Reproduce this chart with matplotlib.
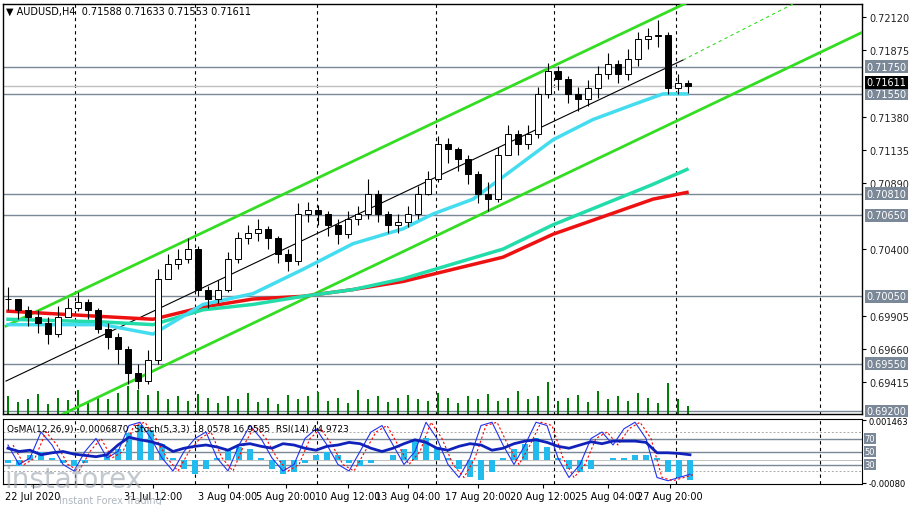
import matplotlib
matplotlib.use("Agg")
import matplotlib.pyplot as plt
import numpy as np
from matplotlib.patches import Rectangle

W, H = 911, 506
fig = plt.figure(figsize=(W/100, H/100), dpi=100)
fig.patch.set_facecolor("white")

# ---- data (close per 8h bar) ----
closes = [0.7003, 0.6995, 0.6990, 0.6985, 0.6977, 0.6990, 0.6996, 0.7001, 0.6995, 0.6981,
          0.6975, 0.6966, 0.6948, 0.6942, 0.6958, 0.7018, 0.7029, 0.7033, 0.7040, 0.7010,
          0.7003, 0.7010, 0.7033, 0.7048, 0.7052, 0.7055, 0.7048, 0.7036, 0.7031, 0.7066,
          0.7069, 0.7066, 0.7058, 0.7051, 0.7062, 0.7066, 0.7081, 0.7066, 0.7058, 0.7060,
          0.7066, 0.7081, 0.7092, 0.7118, 0.7114, 0.7107, 0.7096, 0.7081, 0.7077, 0.7110,
          0.7125, 0.7118, 0.7125, 0.7155, 0.7172, 0.7166, 0.7155, 0.7151, 0.7159, 0.7170,
          0.7177, 0.7170, 0.7181, 0.7196, 0.7198, 0.7199, 0.7159, 0.7163, 0.7161]
highs = [0.7012, 0.7003, 0.6998, 0.6995, 0.6990, 0.6998, 0.7004, 0.7008, 0.7003, 0.6996,
         0.6985, 0.6978, 0.6968, 0.6955, 0.6965, 0.7025, 0.7036, 0.7040, 0.7048, 0.7042,
         0.7013, 0.7017, 0.7038, 0.7053, 0.7058, 0.7062, 0.7057, 0.7050, 0.7040, 0.7074,
         0.7075, 0.7073, 0.7068, 0.7062, 0.7068, 0.7072, 0.7092, 0.7084, 0.7068, 0.7066,
         0.7072, 0.7087, 0.7098, 0.7124, 0.7122, 0.7116, 0.7110, 0.7098, 0.7090, 0.7116,
         0.7132, 0.7128, 0.7132, 0.7160, 0.7178, 0.7176, 0.7168, 0.7160, 0.7165, 0.7176,
         0.7185, 0.7180, 0.7188, 0.7201, 0.7204, 0.7210, 0.7201, 0.7170, 0.7165]
lows = [0.6995, 0.6988, 0.6983, 0.6978, 0.6970, 0.6975, 0.6990, 0.6994, 0.6988, 0.6978,
        0.6966, 0.6955, 0.6940, 0.6936, 0.6940, 0.6955, 0.7020, 0.7025, 0.7030, 0.7005,
        0.6996, 0.7000, 0.7008, 0.7030, 0.7044, 0.7046, 0.7040, 0.7030, 0.7024, 0.7028,
        0.7060, 0.7058, 0.7050, 0.7044, 0.7048, 0.7058, 0.7062, 0.7060, 0.7052, 0.7052,
        0.7056, 0.7062, 0.7080, 0.7090, 0.7104, 0.7098, 0.7088, 0.7074, 0.7068, 0.7075,
        0.7110, 0.7110, 0.7114, 0.7122, 0.7152, 0.7158, 0.7148, 0.7142, 0.7146, 0.7152,
        0.7166, 0.7163, 0.7165, 0.7176, 0.7188, 0.7190, 0.7155, 0.7155, 0.7156]
volumes = [22, 15, 18, 25, 12, 20, 17, 30, 14, 22, 18, 26, 35, 30, 24, 28, 19, 22, 16, 25,
           20, 14, 22, 18, 26, 15, 20, 12, 24, 18, 22, 27, 16, 20, 14, 30, 18, 22, 15, 20,
           24, 18, 16, 26, 20, 14, 22, 18, 25, 16, 20, 28, 18, 22, 40, 16, 20, 24, 15, 28,
           18, 22, 16, 26, 20, 14, 38, 18, 10]

ma_x = [5, 100, 150, 200, 250, 300, 350, 400, 430, 470, 510, 550, 590, 630, 660, 684]
ma_fast = [0.6984, 0.6984, 0.6977, 0.6999, 0.7007, 0.7025, 0.7044, 0.7055, 0.7066, 0.7077,
           0.7099, 0.7121, 0.7136, 0.7147, 0.7155, 0.7155]
ma2_x = [5, 100, 150, 200, 250, 300, 350, 400, 450, 500, 550, 600, 650, 684]
ma_mid = [0.6988, 0.6986, 0.6984, 0.6995, 0.6999, 0.7005, 0.7010, 0.7018, 0.7029, 0.7040,
          0.7058, 0.7073, 0.7088, 0.7099]
ma_slow = [0.6994, 0.6990, 0.6988, 0.6997, 0.7003, 0.7005, 0.7010, 0.7016, 0.7025, 0.7034,
           0.7051, 0.7064, 0.7077, 0.7082]

levels = [0.71750, 0.71550, 0.70810, 0.70650, 0.70050, 0.69550, 0.69200]
ticks = [0.72120, 0.71875, 0.71380, 0.71135, 0.70890, 0.70400, 0.69905, 0.69660, 0.69415]
last_price = 0.71611
vlines_x = [72, 192, 314, 433, 551, 673, 817]
date_x = [30, 150, 225, 283, 345, 405, 475, 540, 605, 667]
date_lbl = ["22 Jul 2020", "31 Jul 12:00", "3 Aug 04:00", "5 Aug 20:00", "10 Aug 12:00",
            "13 Aug 04:00", "17 Aug 20:00", "20 Aug 12:00", "25 Aug 04:00", "27 Aug 20:00"]

osma = [-0.0001, -0.0002, 0.0002, 0.0003, 0.0001, -0.0001, -0.0002, -0.0001, 0.0000, 0.0002,
        0.0004, 0.0010, 0.0013, 0.0011, 0.0006, 0.0001, -0.0003, -0.0005, -0.0003, 0.0001,
        0.0004, 0.0005, 0.0004, 0.0001, -0.0003, -0.0005, -0.0004, -0.0001, 0.0002, 0.0003,
        0.0002, -0.0001, -0.0002, -0.0001, 0.0000, 0.0002, 0.0004, 0.0007, 0.0008, 0.0005,
        0.0001, -0.0003, -0.0006, -0.0007, -0.0004, 0.0001, 0.0004, 0.0006, 0.0008, 0.0005,
        0.0001, -0.0003, -0.0004, -0.0003, 0.0000, 0.0001, 0.0001, 0.0002, 0.0002, 0.0001,
        -0.0004, -0.0006, -0.0007]
rsi = [55, 50, 52, 45, 48, 50, 46, 44, 42, 45, 60, 72, 68, 65, 60, 50, 55, 58, 60, 57,
       52, 60, 62, 58, 55, 62, 60, 55, 52, 58, 60, 64, 62, 55, 50, 55, 62, 68, 64, 55,
       52, 58, 62, 60, 52, 55, 62, 66, 68, 64, 58, 55, 60, 65, 62, 66, 66, 66, 64, 48,
       48, 47, 45]
stoch = [60, 30, 40, 80, 60, 30, 20, 50, 70, 40, 50, 90, 95, 70, 40, 20, 50, 70, 80, 40,
         20, 60, 90, 70, 40, 20, 30, 70, 85, 60, 30, 20, 50, 80, 90, 60, 30, 50, 95, 70,
         30, 10, 40, 90, 95, 60, 30, 60, 95, 90, 40, 10, 30, 70, 80, 60, 85, 95, 70, 10,
         5, 10, 15]

def y2f(y):
    return 1 - y / H

# ---- main panel ----
ax = fig.add_axes([3/W, y2f(415), 859/W, (415-5)/H])
ymin, ymax = 0.69178, 0.72216
ax.set_xlim(0, 859); ax.set_ylim(ymin, ymax)
xs = np.arange(len(closes)) * 10 + 5
for x in vlines_x:
    ax.axvline(x, color="black", ls=(0, (3, 3)), lw=0.8, zorder=1)
for lv in levels:
    ax.axhline(lv, color="#7a8898", lw=1, zorder=1)
ax.axhline(last_price, color="#c0c0c0", lw=1, zorder=1)

vol_scale = 0.00006
ax.bar(xs, np.array(volumes) * vol_scale, bottom=ymin, width=1.2, color="#008000", zorder=2)

ax.plot([3, 705], [0.69830, 0.72300], color="#33dd22", lw=2, zorder=3)
ax.plot([60, 862], [0.69178, 0.72016], color="#33dd22", lw=2, zorder=3)
ax.plot([3, 680], [0.69422, 0.71801], color="black", lw=0.8, zorder=3)
ax.plot([680, 790], [0.71801, 0.72216], color="#33dd22", lw=0.8, ls=(0, (3, 3)), zorder=3)

ax.plot(ma2_x, ma_slow, color="#ee1111", lw=2.5, zorder=4)
ax.plot(ma2_x, ma_mid, color="#22ddaa", lw=2.5, zorder=4)
ax.plot(ma_x, ma_fast, color="#44ddf0", lw=2.5, zorder=4)

opens = [closes[0]] + closes[:-1]
for x, o, h, l, c in zip(xs, opens, highs, lows, closes):
    ax.vlines(x, l, h, color="black", lw=0.8, zorder=5)
    bot, top = min(o, c), max(o, c)
    ax.add_patch(Rectangle((x-3, bot), 6, max(top-bot, 0.00003),
                           facecolor="white" if c >= o else "black",
                           edgecolor="black", lw=0.7, zorder=6))

ax.set_xticks([])
ax.yaxis.tick_right()
ax.set_yticks(ticks)
ax.set_yticklabels([f"{t:.5f}" for t in ticks], fontsize=7, color="#222222")
ax.tick_params(axis="y", length=3, pad=2)
for lv in levels:
    ax.text(1.005, (lv-ymin)/(ymax-ymin), f"{lv:.5f}", transform=ax.transAxes, fontsize=7,
            color="white", va="center", ha="left",
            bbox=dict(boxstyle="square,pad=0.15", fc="#7a8898", ec="none"))
ax.text(1.005, (last_price-ymin)/(ymax-ymin) + 0.008, f"{last_price:.5f}", transform=ax.transAxes,
        fontsize=7, color="white", va="center", ha="left",
        bbox=dict(boxstyle="square,pad=0.15", fc="black", ec="none"))
ax.text(0.003, 0.995, "▼ AUDUSD,H4  0.71588 0.71633 0.71553 0.71611", transform=ax.transAxes,
        fontsize=7, va="top", ha="left")
for s in ax.spines.values():
    s.set_color("black"); s.set_linewidth(1)

# ---- lower panel ----
ax2 = fig.add_axes([3/W, y2f(485), 859/W, (485-420)/H])
ax2.set_xlim(0, 859)
ax2.set_ylim(-0.00085, 0.00150)
xo = np.arange(len(osma)) * 11 + 5
ax2.bar(xo, osma, width=6, color="#22bbee", zorder=2)
sc = 0.00235 / 100
def toval(v):
    return -0.00085 + v * sc
for lv in [70, 50, 30]:
    ax2.axhline(toval(lv), color="#7a8898", lw=1, zorder=1)
for lv in [80, 20]:
    ax2.axhline(toval(lv), color="#aaaaaa", lw=0.7, ls=(0, (2, 2)), zorder=1)
ax2.axhline(0, color="#aaaaaa", lw=0.5, zorder=1)
for x in vlines_x:
    ax2.axvline(x, color="black", ls=(0, (3, 3)), lw=0.8, zorder=1)
ax2.plot(xo, toval(np.array(stoch)), color="#2233ee", lw=0.8, zorder=3)
ax2.plot(xo + 5, toval(np.array(stoch)), color="red", lw=0.8, ls=(0, (2, 2)), zorder=3)
ax2.plot(xo, toval(np.array(rsi)), color="#1122bb", lw=2, zorder=4)
ax2.yaxis.tick_right()
ax2.set_yticks([0.00146, -0.00080])
ax2.set_yticklabels(["0.001463", "-0.00080"], fontsize=6)
for v, l in [(70, "70"), (50, "50"), (30, "30")]:
    ax2.text(1.003, (toval(v)+0.00085)/0.00235, l, transform=ax2.transAxes, fontsize=6,
             color="white", va="center", bbox=dict(boxstyle="square,pad=0.1", fc="#7a8898", ec="none"))
ax2.text(0.005, 0.93, "OsMA(12,26,9) -0.0006870  Stoch(5,3,3) 18.0578 16.9585  RSI(14) 44.9723",
         transform=ax2.transAxes, fontsize=6.5, va="top")
ax2.set_xticks(date_x)
ax2.set_xticklabels(date_lbl, fontsize=7)
ax2.tick_params(axis="x", length=3, pad=2)
ax2.tick_params(axis="y", length=3, pad=2)

fig.text(0.005, 0.035, "instaforex", fontsize=20, color="#9aa4ae", alpha=0.6)
fig.text(0.065, 0.004, "Instant Forex Trading", fontsize=7, color="#9aa4ae", alpha=0.8)

fig.savefig("out.png", dpi=100)
